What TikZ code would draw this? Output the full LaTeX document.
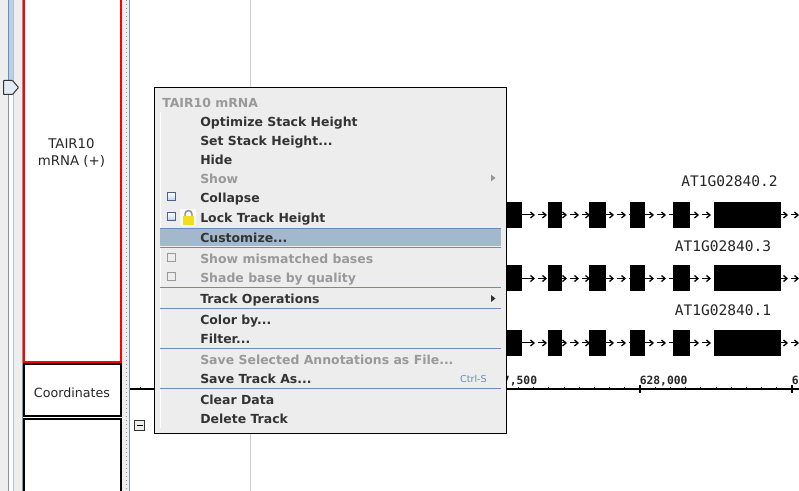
\documentclass[tikz,border=0pt]{standalone}
\usepackage{fontspec}
\setmainfont{DejaVu Sans}
\newfontfamily\monof{DejaVu Sans Mono}
\definecolor{panelbg}{HTML}{EEEEEE}
\definecolor{menubg}{HTML}{EDEDED}
\definecolor{menutext}{HTML}{333333}
\definecolor{graytext}{HTML}{999999}
\definecolor{sepblue}{HTML}{6A8AC4}
\definecolor{hilite}{HTML}{A3B8CC}
\definecolor{framegray}{HTML}{8A949E}
\definecolor{scrollblue}{HTML}{B8CFE5}
\definecolor{lockyellow}{HTML}{F2DE1E}
\tikzset{
  x=0.75pt,y=-0.75pt,
  menuitem/.style={anchor=base west,inner sep=0pt,font=\fontsize{9.35}{11}\selectfont\bfseries,text=menutext},
  menugray/.style={menuitem,text=graytext},
  sepline/.style={draw=sepblue,line width=0.75pt},
  exon/.style={fill=black,draw=none},
  chk/.style={draw=#1,line width=0.75pt,inner sep=0pt,minimum size=6pt},
  genelabel/.style={anchor=base west,inner sep=0pt,font=\monof\fontsize{10.9}{12}\selectfont,text=black!85},
  coordlabel/.style={anchor=base west,inner sep=0pt,font=\monof\bfseries\fontsize{8.5}{10}\selectfont,text=black!85},
  panellabel/.style={align=center,inner sep=0pt,text=black!85},
  intron/.style={line width=0.75pt,black},
}
\newcommand{\generow}[1]{%
  \draw[intron] (522,#1) -- (799,#1);
  \foreach \ax in {534,546,566,578,589,613,625,653,665,698,710,787,798}{
    \fill[white] (\ax,#1-1.5) rectangle (\ax+3.5,#1+1.5);
    \draw[black,line width=1pt] (\ax-3.5,#1-3) -- (\ax,#1) -- (\ax-3.5,#1+3);
  }
  \foreach \xa/\xb in {506/522,548/562,589/606,630/645,673/690,714/781}{
    \fill[exon] (\xa,#1-13) rectangle (\xb,#1+13);
  }
}
\begin{document}
\begin{tikzpicture}
\useasboundingbox (0,0) rectangle (799,491);
\fill[white] (0,0) rectangle (799,491);
% left strip
\fill[panelbg] (0,0) rectangle (23,491);
\fill[white!80!panelbg] (8,0) rectangle (14,491);
\fill[scrollblue] (9,0) rectangle (14,80);
\draw[sepblue,line width=0.75pt] (8.5,0) -- (8.5,80);
\draw[framegray,line width=0.75pt] (8.5,80) -- (8.5,491);
\draw[framegray!60,line width=0.75pt] (13.5,0) -- (13.5,491);
\draw[framegray,line width=0.75pt] (22.5,0) -- (22.5,491);
% slider thumb
\draw[fill=scrollblue!40,draw=black!80,line width=0.75pt,rounded corners=0.5pt]
  (3.5,80.5) -- (12.5,80.5) -- (18.5,87.5) -- (12.5,94.5) -- (3.5,94.5) -- cycle;
% divider strip
\fill[panelbg] (122,0) rectangle (129,491);
\draw[framegray,line width=0.9pt,dash pattern=on 0.8pt off 2.2pt] (126.5,0) -- (126.5,491);
\draw[framegray,line width=0.75pt] (129.5,0) -- (129.5,491);
% track panels
\draw[red,line width=1.5pt] (24,-3) rectangle (121,361.5);
\draw[black,line width=1.5pt] (24,364.3) rectangle (121,416.3);
\draw[black,line width=1.5pt] (24,418.5) rectangle (121,495);
\node[panellabel,font=\fontsize{10}{13.3}\selectfont] (tracklabel) at (71.5,153) {TAIR10\hspace{4pt}\\mRNA (+)};
\node[panellabel,font=\fontsize{9.5}{14}\selectfont] (coordlabel) at (72,392.5) {Coordinates};
% content
\draw[black!20,line width=0.75pt] (250.5,0) -- (250.5,491);
% axis
\draw[black,line width=1.5pt] (130,389) -- (799,389);
\draw[black,line width=0.6pt] (140.5,389) -- (140.5,386.5);
\foreach \k in {0,...,10}{\draw[black,line width=0.6pt] (640-15.2*\k,389) -- (640-15.2*\k,386.5);}
\foreach \k in {1,...,10}{\draw[black,line width=0.6pt] (640+15.2*\k,389) -- (640+15.2*\k,386.5);}
\foreach \mx in {640,792}{\draw[black,line width=1.4pt] (\mx,385) -- (\mx,392.5);}
\node[coordlabel] (ca) at (502.7,384) {7,500};
\node[coordlabel] (cb) at (639.5,384) {628,000};
\node[coordlabel] (cc) at (791.5,384) {6};
% genes
\generow{215}
\generow{278.5}
\generow{343}
\node[genelabel] (g2) at (681,186.7) {AT1G02840.2};
\node[genelabel] (g3) at (674.5,251.7) {AT1G02840.3};
\node[genelabel] (g1) at (674.5,315.7) {AT1G02840.1};
% collapse box
\draw[black!80,fill=panelbg,line width=0.75pt] (134.5,420.5) rectangle (144.5,430.5);
\draw[black,line width=0.75pt] (136.5,425.5) -- (142.5,425.5);
% menu
\draw[black,fill=menubg,line width=0.75pt] (154.5,87.5) rectangle (506.5,433.5);
\draw[white,line width=0.75pt] (160.5,112) -- (160.5,428);
\fill[hilite] (160,228) rectangle (501,246);
\draw[sepline] (160,228.5) -- (501,228.5);
\draw[sepline] (160,247.5) -- (501,247.5);
\draw[sepline] (160,287.5) -- (501,287.5);
\draw[sepline] (160,308.5) -- (501,308.5);
\draw[sepline] (160,348.5) -- (501,348.5);
\draw[sepline] (160,388.5) -- (501,388.5);
\node[menugray] (title) at (162,107.7) {TAIR10 mRNA};
\node[menuitem] (m1) at (200,126.7) {Optimize Stack Height};
\node[menuitem] (m2) at (200,145.7) {Set Stack Height...};
\node[menuitem] (m3) at (200,164.7) {Hide};
\node[menugray] (m4) at (200,183.7) {Show};
\node[menuitem] (m5) at (200,202.7) {Collapse};
\node[menuitem] (m6) at (200,222.7) {Lock Track Height};
\node[menuitem] (m7) at (200,243) {Customize...};
\node[menugray] (m8) at (200,263.7) {Show mismatched bases};
\node[menugray] (m9) at (200,282.7) {Shade base by quality};
\node[menuitem] (m10) at (200,303.7) {Track Operations};
\node[menuitem] (m11) at (200,324.7) {Color by...};
\node[menuitem] (m12) at (200,343.7) {Filter...};
\node[menugray] (m13) at (200,364.7) {Save Selected Annotations as File...};
\node[menuitem] (m14) at (200,383.7) {Save Track As...};
\node[menuitem] (m15) at (200,404.7) {Clear Data};
\node[menuitem] (m16) at (200,423.7) {Delete Track};
\node[anchor=base east,inner sep=0pt,font=\fontsize{7.2}{9}\selectfont,text=sepblue] (sc) at (487,382.5) {Ctrl-S};
% submenu arrows
\fill[graytext] (491,174.5) -- (495.5,178) -- (491,181.5) -- cycle;
\fill[menutext] (491,295) -- (495.5,298.5) -- (491,302) -- cycle;
% check boxes
\node[chk=sepblue!70!black,top color=white,bottom color=scrollblue] (c1) at (171,197) {};
\node[chk=sepblue!70!black,top color=white,bottom color=scrollblue] (c2) at (171,217) {};
\node[chk=graytext,fill=menubg] (c3) at (171,258) {};
\node[chk=graytext,fill=menubg] (c4) at (171,277) {};
% lock icon
\fill[white!70!menubg] (180,209) rectangle (196,226);
\draw[black!45,line width=1.1pt] (185,217) -- (185,214) .. controls (185,209.5) and (192,209.5) .. (192,214) -- (192,217);
\fill[lockyellow] (183,216) rectangle (194,225);
\end{tikzpicture}
\end{document}
